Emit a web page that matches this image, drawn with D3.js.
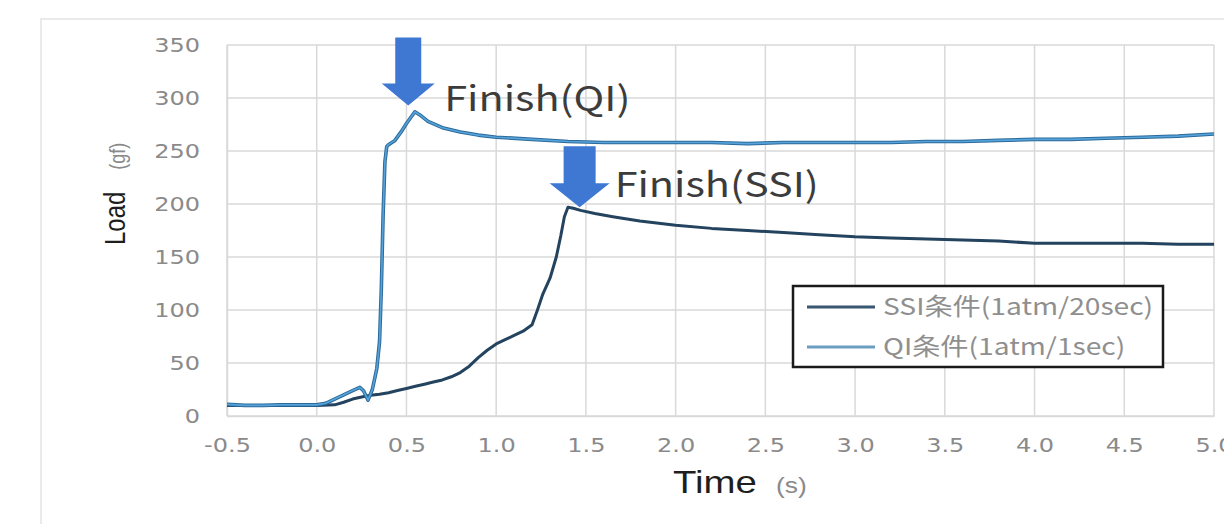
<!DOCTYPE html>
<html><head><meta charset="utf-8">
<script src="https://cdn.jsdelivr.net/npm/d3@7"></script>
<style>
html,body{margin:0;padding:0;background:#fff;overflow:hidden;}
svg{display:block;}
</style></head>
<body>
<svg id="chart" width="1224" height="524"></svg>
<script>
// ---------- data ----------
const xTickValues = [-0.5, 0.0, 0.5, 1.0, 1.5, 2.0, 2.5, 3.0, 3.5, 4.0, 4.5, 5.0];
const xTickLabels = ["-0.5","0.0","0.5","1.0","1.5","2.0","2.5","3.0","3.5","4.0","4.5","5.0"];
const yTickValues = [0, 50, 100, 150, 200, 250, 300, 350];
const yTickLabels = ["0","50","100","150","200","250","300","350"];

const seriesNames = ["SSI条件(1atm/20sec)", "QI条件(1atm/1sec)"];

const ssiTime = [-0.5,-0.3,0.0,0.1,0.15,0.2,0.25,0.3,0.35,0.4,0.45,0.5,0.55,0.6,0.65,0.7,0.75,0.8,0.85,0.9,0.95,1.0,1.05,1.1,1.15,1.2,1.23,1.26,1.30,1.335,1.36,1.38,1.40,1.43,1.47,1.55,1.65,1.8,2.0,2.2,2.4,2.6,2.8,3.0,3.2,3.4,3.6,3.8,4.0,4.2,4.4,4.6,4.8,5.0];
const ssiLoad = [10,10,10,10.5,13,16,18,19.5,20.5,22,24,26,28,30,32,34,37,41,47,55,62,68,72,76,80,86,100,115,130,150,170,188,197,196,194,191,188,184,180,177,175,173,171,169,168,167,166,165,163,163,163,163,162,162];

const qiTime = [-0.5,-0.4,-0.3,-0.2,-0.1,0.0,0.05,0.1,0.15,0.2,0.24,0.26,0.286,0.31,0.335,0.35,0.36,0.37,0.38,0.39,0.40,0.436,0.47,0.50,0.53,0.547,0.575,0.62,0.7,0.8,0.9,1.0,1.2,1.4,1.6,1.8,2.0,2.2,2.4,2.6,2.8,3.0,3.2,3.4,3.6,3.8,4.0,4.2,4.4,4.6,4.8,5.0];
const qiLoad = [11,10,10,10.5,10.5,10.5,12,16,20,24,27,24,15,25,45,70,120,190,240,254,256,260,268,276,283,287,284,278,272,268,265,263,261,259,258,258,258,258,257,258,258,258,258,259,259,260,261,261,262,263,264,266];

// annotation tips (time, load) and labels
const annTime = [0.51, 1.465];
const annLoad = [293, 197];
const annLabels = ["Finish(QI)", "Finish(SSI)"];

// ---------- layout ----------
const svg = d3.select("#chart");
const M = {left: 227, top: 45, right: 1214, bottom: 416};
const x = d3.scaleLinear().domain([-0.5, 5.0]).range([M.left, M.right]);
const y = d3.scaleLinear().domain([0, 350]).range([M.bottom, M.top]);
const SX = 1.2; // horizontal glyph stretch
const grid = "#d9d9d9", tickGray = "#8a8a8a";

// outer frame
svg.append("rect").attr("x", 41).attr("y", 19).attr("width", 1300).attr("height", 600)
  .attr("fill", "none").attr("stroke", "#e4e4e4").attr("stroke-width", 1.5);

// gridlines
svg.append("g").selectAll("line").data(yTickValues).join("line")
  .attr("x1", M.left).attr("x2", M.right).attr("y1", d => y(d)).attr("y2", d => y(d))
  .attr("stroke", grid).attr("stroke-width", 1.5);
svg.append("g").selectAll("line").data(xTickValues).join("line")
  .attr("y1", M.top).attr("y2", M.bottom).attr("x1", d => x(d)).attr("x2", d => x(d))
  .attr("stroke", grid).attr("stroke-width", 1.5);

// axes
const yAxis = d3.axisLeft(y).tickValues(yTickValues).tickSize(0)
  .tickFormat((d, i) => yTickLabels[i]);
const gy = svg.append("g").attr("transform", `translate(${M.left},0)`).call(yAxis);
gy.select(".domain").attr("stroke", grid).attr("stroke-width", 1.5);
gy.selectAll("text").attr("x", -27 / SX).attr("transform", `scale(${SX},1)`)
  .attr("font-family", "DejaVu Sans").attr("font-size", 20).attr("fill", tickGray);

const xAxis = d3.axisBottom(x).tickValues(xTickValues).tickSize(0).tickPadding(22)
  .tickFormat((d, i) => xTickLabels[i]);
const gx = svg.append("g").attr("transform", `translate(0,${M.bottom})`).call(xAxis);
gx.select(".domain").attr("stroke", grid).attr("stroke-width", 1.5);
gx.selectAll("text").attr("transform", `scale(${SX},1)`)
  .attr("font-family", "DejaVu Sans").attr("font-size", 20).attr("fill", tickGray);

// axis titles
const tt = svg.append("text").attr("transform", `translate(673,493) scale(${SX},1)`)
  .attr("font-family", "Liberation Sans, Arial, sans-serif");
tt.append("tspan").attr("font-size", 32).attr("fill", "#1e1e1e").text("Time");
tt.append("tspan").attr("dx", 16).attr("font-size", 22).attr("fill", tickGray).text("(s)");

const yt = svg.append("text").attr("transform", `translate(125,245) rotate(-90) scale(1,${SX})`)
  .attr("font-family", "Liberation Sans, Arial, sans-serif");
yt.append("tspan").attr("font-size", 24).attr("fill", "#1e1e1e").text("Load");
yt.append("tspan").attr("dx", 22).attr("font-size", 18).attr("fill", tickGray).text("(gf)");

// lines
const line = d3.line().x(d => x(d[0])).y(d => y(d[1]));
const ssiData = ssiTime.map((t, i) => [t, ssiLoad[i]]);
const qiData = qiTime.map((t, i) => [t, qiLoad[i]]);

svg.append("path").datum(ssiData).attr("d", line).attr("fill", "none")
  .attr("stroke", "#23435e").attr("stroke-width", 3).attr("stroke-linejoin", "round");
svg.append("path").datum(qiData).attr("d", line).attr("fill", "none")
  .attr("stroke", "#2c6a9a").attr("stroke-width", 3.6).attr("stroke-linejoin", "round");
svg.append("path").datum(qiData).attr("d", line).attr("fill", "none")
  .attr("stroke", "#55a3da").attr("stroke-width", 1.6).attr("stroke-linejoin", "round");

// annotations
const arrowDims = [{hw: 26.5, hh: 22, sw: 13, sl: 46}, {hw: 30, hh: 24, sw: 16, sl: 37}];
const labelOffset = [{dx: 36, dy: 6}, {dx: 35, dy: -10}];
annTime.forEach((t, i) => {
  const tx = x(t), ty = y(annLoad[i]);
  const a = arrowDims[i];
  const p = `M${tx},${ty} L${tx - a.hw},${ty - a.hh} L${tx - a.sw},${ty - a.hh} L${tx - a.sw},${ty - a.hh - a.sl} ` +
            `L${tx + a.sw},${ty - a.hh - a.sl} L${tx + a.sw},${ty - a.hh} L${tx + a.hw},${ty - a.hh} Z`;
  svg.append("path").attr("d", p).attr("fill", "#3e78d2");
  svg.append("text").attr("transform", `translate(${tx + labelOffset[i].dx},${ty + labelOffset[i].dy}) scale(${SX},1)`)
    .attr("font-family", "Noto Sans CJK JP").attr("font-size", 34.5).attr("fill", "#3c3c3c")
    .text(annLabels[i]);
});

// legend
const lg = svg.append("g");
lg.append("rect").attr("x", 793).attr("y", 286).attr("width", 370).attr("height", 81)
  .attr("fill", "#fff").attr("stroke", "#1a1a1a").attr("stroke-width", 2.5);
const legendColors = ["#3a5772", "#6a9dbf"];
seriesNames.forEach((name, i) => {
  const cy = 307 + i * 40;
  lg.append("line").attr("x1", 807).attr("x2", 875).attr("y1", cy).attr("y2", cy)
    .attr("stroke", legendColors[i]).attr("stroke-width", 3);
  lg.append("text").attr("transform", `translate(883,${cy + 8}) scale(${SX},1)`)
    .attr("font-family", "Noto Sans CJK JP").attr("font-size", 23.5).attr("fill", "#8f8f8f")
    .text(name);
});
</script>
</body></html>
